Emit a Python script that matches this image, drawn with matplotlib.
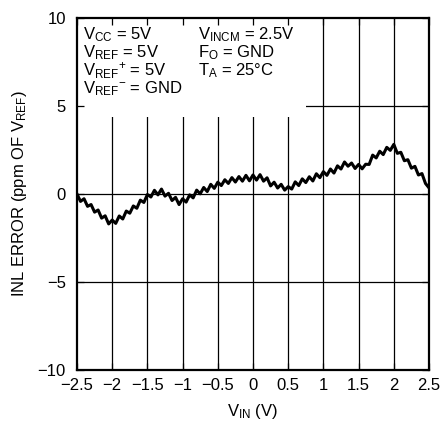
import numpy as np
import matplotlib
matplotlib.use("Agg")
import matplotlib.pyplot as plt
from matplotlib.patches import Rectangle

plt.rcParams['font.family'] = ['Liberation Sans', 'DejaVu Sans']
plt.rcParams['mathtext.fontset'] = 'custom'
plt.rcParams['mathtext.rm'] = 'Liberation Sans'
plt.rcParams['mathtext.it'] = 'Liberation Sans'
plt.rcParams['font.size'] = 12

# VIN (V), step 0.05
vin = [-2.50, -2.45, -2.40, -2.35, -2.30, -2.25, -2.20, -2.15, -2.10, -2.05,
       -2.00, -1.95, -1.90, -1.85, -1.80, -1.75, -1.70, -1.65, -1.60, -1.55,
       -1.50, -1.45, -1.40, -1.35, -1.30, -1.25, -1.20, -1.15, -1.10, -1.05,
       -1.00, -0.95, -0.90, -0.85, -0.80, -0.75, -0.70, -0.65, -0.60, -0.55,
       -0.50, -0.45, -0.40, -0.35, -0.30, -0.25, -0.20, -0.15, -0.10, -0.05,
       0.00, 0.05, 0.10, 0.15, 0.20, 0.25, 0.30, 0.35, 0.40, 0.45,
       0.50, 0.55, 0.60, 0.65, 0.70, 0.75, 0.80, 0.85, 0.90, 0.95,
       1.00, 1.05, 1.10, 1.15, 1.20, 1.25, 1.30, 1.35, 1.40, 1.45,
       1.50, 1.55, 1.60, 1.65, 1.70, 1.75, 1.80, 1.85, 1.90, 1.95,
       2.00, 2.05, 2.10, 2.15, 2.20, 2.25, 2.30, 2.35, 2.40, 2.45, 2.50]

# INL error (ppm of VREF)
inl = [0.00, -0.42, -0.27, -0.70, -0.60, -1.03, -0.91, -1.37, -1.24, -1.70,
       -1.48, -1.67, -1.25, -1.42, -0.97, -1.09, -0.68, -0.81, -0.35, -0.48,
       -0.03, -0.17, 0.21, -0.05, 0.28, -0.12, 0.04, -0.37, -0.19, -0.60,
       -0.27, -0.46, -0.05, -0.22, 0.22, 0.01, 0.37, 0.14, 0.55, 0.32,
       0.67, 0.48, 0.81, 0.60, 0.93, 0.68, 0.99, 0.73, 1.06, 0.75,
       1.08, 0.79, 1.10, 0.73, 0.92, 0.46, 0.67, 0.34, 0.55, 0.22,
       0.42, 0.28, 0.69, 0.48, 0.86, 0.65, 0.98, 0.74, 1.15, 0.93,
       1.27, 1.06, 1.42, 1.19, 1.60, 1.42, 1.82, 1.58, 1.76, 1.45,
       1.68, 1.43, 1.69, 1.68, 2.21, 2.05, 2.43, 2.24, 2.65, 2.48,
       2.82, 2.31, 2.37, 1.89, 1.95, 1.47, 1.57, 1.08, 1.16, 0.60, 0.35]

xticks = [-2.5, -2, -1.5, -1, -0.5, 0, 0.5, 1, 1.5, 2, 2.5]
xticklabels = ['\u22122.5', '\u22122', '\u22121.5', '\u22121', '\u22120.5', '0',
               '0.5', '1', '1.5', '2', '2.5']
yticks = [-10, -5, 0, 5, 10]
yticklabels = ['\u221210', '\u22125', '0', '5', '10']

notes_left = [r'V$_{\rm CC}$ = 5V', r'V$_{\rm REF}$ = 5V',
              r'V$_{\rm REF}$$^{+}$ = 5V', r'V$_{\rm REF}$$^{-}$ = GND']
notes_right = [r'V$_{\rm INCM}$ = 2.5V', r'F$_{\rm O}$ = GND',
               r'T$_{\rm A}$ = 25°C']

fig = plt.figure(figsize=(4.43, 4.26), dpi=100)
ax = fig.add_axes([0.1738, 0.1315, 0.7946, 0.8262])

for xv in xticks[1:-1]:
    ax.axvline(xv, color='black', lw=0.9, zorder=1)
for yv in yticks[1:-1]:
    ax.axhline(yv, color='black', lw=0.9, zorder=1)

# white box behind the conditions text
ax.add_patch(Rectangle((-2.5, 4.4), 3.25, 5.6, facecolor='white',
                       edgecolor='none', zorder=2))

ax.plot(vin, inl, color='black', lw=2.2, zorder=3)

ax.set_xlim(-2.5, 2.5)
ax.set_ylim(-10, 10)
ax.set_xticks(xticks)
ax.set_xticklabels(xticklabels)
ax.set_yticks(yticks)
ax.set_yticklabels(yticklabels)
ax.set_axisbelow(False)
ax.tick_params(direction='in', length=5, width=0.9, top=True, right=True,
               labelsize=12)
ax.tick_params(axis='x', pad=6)
ax.tick_params(axis='y', pad=8)
for s in ax.spines.values():
    s.set_linewidth(1.6)

for i, t in enumerate(notes_left):
    ax.text(-2.42, 9.05 - i * 1.02, t, fontsize=12, va='center', ha='left', zorder=4)
for i, t in enumerate(notes_right):
    ax.text(-0.78, 9.05 - i * 1.02, t, fontsize=12, va='center', ha='left', zorder=4)

ax.set_xlabel(r'V$_{\rm IN}$ (V)', fontsize=12, labelpad=6)
ax.set_ylabel(r'INL ERROR (ppm OF V$_{\rm REF}$)', fontsize=12, labelpad=6)

fig.savefig('out.png', dpi=100)
